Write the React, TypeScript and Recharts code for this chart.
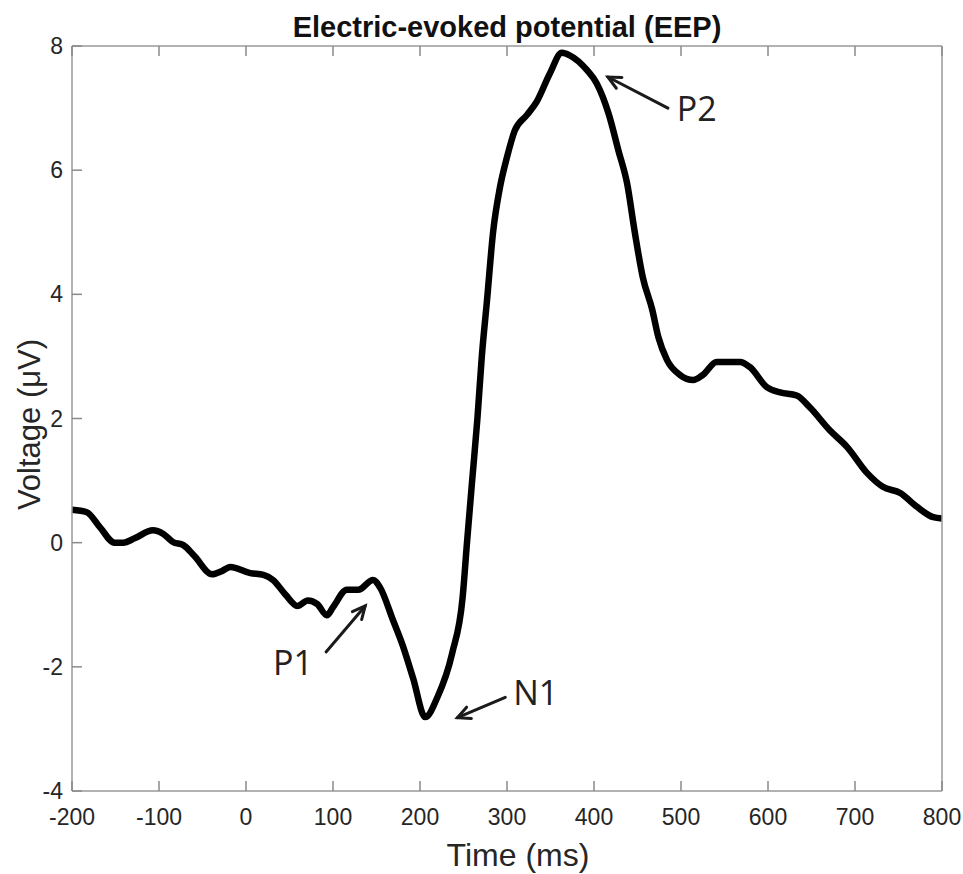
import React from "react";
import {
  LineChart,
  Line,
  XAxis,
  YAxis,
  ReferenceLine,
  ReferenceDot,
} from "recharts";

// EEP grand average (ms, µV)
const timeMs = [
  -200, -183, -168, -151, -141, -128, -107, -95, -84, -72, -59, -39, -28, -18,
  5, 20, 31, 45, 59, 71, 82, 93, 100, 116, 129, 146, 154, 169, 180, 192, 206,
  220, 237, 249, 254, 260, 266, 271, 277, 284, 292, 300, 309, 323, 334, 349,
  363, 372, 392, 403, 417, 428, 438, 447, 456, 467, 474, 484, 499, 514, 525,
  541, 568, 579, 599, 614, 633, 648, 671, 691, 714, 732, 752, 771, 790, 800,
];
const voltageUv = [
  0.53, 0.49, 0.25, 0.0, 0.0, 0.07, 0.2, 0.14, 0.01, -0.04, -0.22, -0.51,
  -0.46, -0.39, -0.49, -0.52, -0.6, -0.83, -1.02, -0.93, -0.99, -1.17, -1.04,
  -0.76, -0.76, -0.6, -0.72, -1.25, -1.65, -2.18, -2.81, -2.49, -1.78, -0.88,
  0.0, 1.01, 2.0, 2.99, 3.9, 5.0, 5.73, 6.21, 6.64, 6.89, 7.1, 7.55, 7.89,
  7.85, 7.61, 7.4, 6.9, 6.32, 5.79, 4.99, 4.28, 3.75, 3.31, 2.94, 2.7, 2.62,
  2.7, 2.91, 2.91, 2.83, 2.5, 2.42, 2.37, 2.18, 1.81, 1.54, 1.12, 0.9, 0.8,
  0.58, 0.41, 0.39,
];

const xTicks = [-200, -100, 0, 100, 200, 300, 400, 500, 600, 700, 800];
const yTicks = [-4, -2, 0, 2, 4, 6, 8];

// component labels with their arrows (data coords)
const peakLabels = ["P1", "N1", "P2"];
const labelPos = [
  [54, -1.92],
  [333, -2.41],
  [518, 7.0],
];
const arrowTail = [
  [92, -1.76],
  [298, -2.49],
  [485, 7.0],
];
const arrowHead = [
  [137, -1.02],
  [243, -2.82],
  [416, 7.5],
];

const data = timeMs.map((t, i) => ({ t, v: voltageUv[i] }));

const axisColor = "#999";
const tickColor = "#8a8a8a";
const textColor = "#262626";
const sans = "'Liberation Sans', Arial, sans-serif";
const TICK_LEN = 10;

// matlab-style ticks: short marks pointing into the box, label outside
function boxTick(side: "bottom" | "top" | "left" | "right", withLabel: boolean) {
  return (props: any) => {
    const { x, y, payload } = props;
    let line;
    let label = null;
    if (side === "bottom" || side === "top") {
      const dir = side === "bottom" ? -1 : 1;
      line = <line x1={x} y1={y} x2={x} y2={y + dir * TICK_LEN} stroke={tickColor} strokeWidth={1.5} />;
      if (withLabel)
        label = (
          <text x={x} y={y + 34} textAnchor="middle">
            {payload.value}
          </text>
        );
    } else {
      const dir = side === "left" ? 1 : -1;
      line = <line x1={x} y1={y} x2={x + dir * TICK_LEN} y2={y} stroke={tickColor} strokeWidth={1.5} />;
      if (withLabel)
        label = (
          <text x={x - 9} y={y + 8} textAnchor="end">
            {payload.value}
          </text>
        );
    }
    return (
      <g>
        {line}
        {label && (
          <g fill={textColor} fontFamily={sans} fontSize={23} stroke="none">
            {label}
          </g>
        )}
      </g>
    );
  };
}

function Arrow(props: any) {
  const { x1, y1, x2, y2 } = props;
  const ang = Math.atan2(y2 - y1, x2 - x1);
  const len = 14;
  const spread = 0.45;
  const a1x = x2 - len * Math.cos(ang - spread);
  const a1y = y2 - len * Math.sin(ang - spread);
  const a2x = x2 - len * Math.cos(ang + spread);
  const a2y = y2 - len * Math.sin(ang + spread);
  return (
    <g stroke="#1a1a1a" strokeWidth={3} fill="none" strokeLinecap="round">
      <line x1={x1} y1={y1} x2={x2} y2={y2} />
      <polyline points={`${a1x},${a1y} ${x2},${y2} ${a2x},${a2y}`} />
    </g>
  );
}

export default function App() {
  return (
    <div style={{ position: "absolute", left: 0, top: 0, background: "#fff" }}>
      <LineChart
        width={963}
        height={874}
        data={data}
        margin={{ top: 45, right: 20, bottom: 0, left: 0 }}
      >
        <XAxis
          dataKey="t"
          type="number"
          domain={[-200, 800]}
          ticks={xTicks}
          height={83}
          stroke={axisColor}
          strokeWidth={1.5}
          tickLine={false}
          tickSize={0}
          tickMargin={0}
          tick={boxTick("bottom", true)}
          label={{
            content: ({ viewBox }: any) => (
              <text
                x={viewBox.x + viewBox.width / 2 + 11}
                y={viewBox.y + viewBox.height - 8}
                textAnchor="middle"
                fill={textColor}
                fontFamily={sans}
                fontSize={32}
              >
                Time (ms)
              </text>
            ),
          }}
        />
        <XAxis
          xAxisId="top"
          dataKey="t"
          type="number"
          orientation="top"
          domain={[-200, 800]}
          ticks={xTicks}
          height={1}
          stroke={axisColor}
          strokeWidth={1.5}
          tickLine={false}
          tickSize={0}
          tickMargin={0}
          tick={boxTick("top", false)}
          label={{
            content: ({ viewBox }: any) => (
              <text
                x={viewBox.x + viewBox.width / 2}
                y={37}
                textAnchor="middle"
                fill="#111"
                fontFamily={sans}
                fontWeight="bold"
                fontSize={29}
              >
                Electric-evoked potential (EEP)
              </text>
            ),
          }}
        />
        <YAxis
          type="number"
          domain={[-4, 8]}
          ticks={yTicks}
          width={72}
          stroke={axisColor}
          strokeWidth={1.5}
          tickLine={false}
          tickSize={0}
          tickMargin={0}
          tick={boxTick("left", true)}
          label={{
            content: ({ viewBox }: any) => {
              const cx = 40;
              const cy = viewBox.y + viewBox.height / 2 + 6;
              return (
                <text
                  x={cx}
                  y={cy}
                  transform={`rotate(-90, ${cx}, ${cy})`}
                  textAnchor="middle"
                  fill={textColor}
                  fontFamily={sans}
                  fontSize={31}
                >
                  Voltage (μV)
                </text>
              );
            },
          }}
        />
        <YAxis
          yAxisId="right"
          orientation="right"
          type="number"
          domain={[-4, 8]}
          ticks={yTicks}
          width={1}
          stroke={axisColor}
          strokeWidth={1.5}
          tickLine={false}
          tickSize={0}
          tickMargin={0}
          tick={boxTick("right", false)}
        />
        <Line
          dataKey="v"
          type="monotone"
          stroke="#000"
          strokeWidth={6.5}
          dot={false}
          strokeLinejoin="round"
          isAnimationActive={false}
        />
        {peakLabels.map((name, i) => (
          <ReferenceLine
            key={`arrow-${name}`}
            segment={[
              { x: arrowTail[i][0], y: arrowTail[i][1] },
              { x: arrowHead[i][0], y: arrowHead[i][1] },
            ]}
            shape={Arrow}
          />
        ))}
        {peakLabels.map((name, i) => (
          <ReferenceDot
            key={`label-${name}`}
            x={labelPos[i][0]}
            y={labelPos[i][1]}
            r={0}
            shape={(p: any) => (
              <text
                x={p.cx}
                y={p.cy}
                textAnchor="middle"
                dominantBaseline="central"
                fill="#222"
                fontFamily="'Open Sans', 'Noto Sans', sans-serif"
                fontSize={34}
              >
                {name}
              </text>
            )}
          />
        ))}
      </LineChart>
    </div>
  );
}
